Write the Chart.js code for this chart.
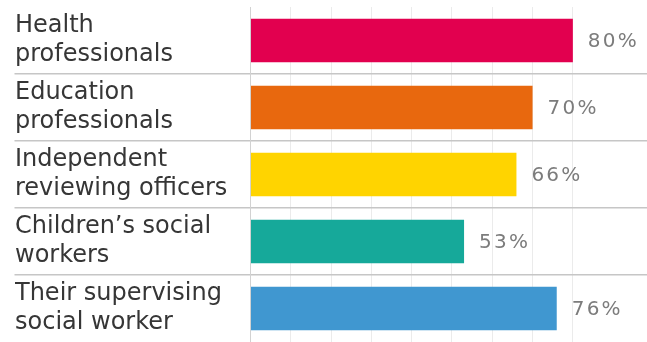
<!DOCTYPE html>
<html>
<head>
<meta charset="utf-8">
<title>Professionals rated positively</title>
<script src="https://cdn.jsdelivr.net/npm/chart.js@4/dist/chart.umd.min.js"></script>
<style>
  html, body { margin: 0; padding: 0; background: #ffffff; overflow: hidden; }
  #wrap { width: 647px; height: 342px; }
</style>
</head>
<body>
<div id="wrap"><canvas id="chart" width="647" height="342"></canvas></div>
<script>
// Category labels, one array of lines per bar
const categories = [
  ['Health', 'professionals'],
  ['Education', 'professionals'],
  ['Independent', 'reviewing officers'],
  ['Children\u2019s social', 'workers'],
  ['Their supervising', 'social worker']
];

// Share of responses, in percent
const values = [80, 70, 66, 53, 76];

// One colour per bar
const barColors = ['#E2004F', '#E8680E', '#FFD400', '#16A99A', '#4097D0'];

// Gridline steps along the value axis
const gridStep = 10;

const FONT = '"DejaVu Sans", Verdana, sans-serif';

// Writes the percentage just past the end of each bar
const valueLabels = {
  id: 'valueLabels',
  afterDatasetsDraw(chart) {
    const ctx = chart.ctx;
    const meta = chart.getDatasetMeta(0);
    ctx.save();
    ctx.font = '20px ' + FONT;
    ctx.fillStyle = '#7c7c7c';
    ctx.textAlign = 'left';
    ctx.textBaseline = 'middle';
    if ('letterSpacing' in ctx) ctx.letterSpacing = '2.2px';
    meta.data.forEach((bar, i) => {
      ctx.fillText(values[i] + '%', bar.x + 15, bar.y + 1);
    });
    ctx.restore();
  }
};

new Chart(document.getElementById('chart'), {
  type: 'bar',
  data: {
    labels: categories,
    datasets: [{
      data: values,
      backgroundColor: barColors,
      borderWidth: 0,
      barPercentage: 0.646,
      categoryPercentage: 1
    }]
  },
  options: {
    indexAxis: 'y',
    responsive: false,
    animation: false,
    layout: { padding: { left: 15, right: 0, top: 7, bottom: 0 } },
    plugins: {
      legend: { display: false },
      tooltip: { enabled: false }
    },
    scales: {
      x: {
        min: 0,
        max: 98.4,
        ticks: { display: false, stepSize: gridStep },
        afterBuildTicks(scale) {
          scale.ticks = scale.ticks.filter(t => t.value % gridStep === 0);
        },
        afterFit(scale) { scale.height = 0; },
        grid: {
          drawTicks: false,
          color: c => (c.tick && c.tick.value === 0) ? '#d2d2d2' : '#ebebeb',
          lineWidth: 1
        },
        border: { display: false }
      },
      y: {
        // labels sit inside their bands, so no extra room above or below
        afterFit(scale) {
          scale.width = 235.5;
          scale.paddingTop = 0;
          scale.paddingBottom = 0;
        },
        ticks: {
          crossAlign: 'far',
          color: '#363636',
          font: { family: FONT, size: 24, lineHeight: 1.22 },
          padding: 0
        },
        grid: {
          offset: true,
          drawTicks: true,
          tickLength: 236,
          lineWidth: 1.5,
          color: c => (c.index === undefined || c.index === 0) ? 'rgba(0,0,0,0)' : '#c6c6c6',
          tickColor: c => (c.index === undefined || c.index === 0) ? 'rgba(0,0,0,0)' : '#c6c6c6'
        },
        border: { display: true, color: '#d2d2d2', width: 1 }
      }
    }
  },
  plugins: [valueLabels]
});
</script>
</body>
</html>
